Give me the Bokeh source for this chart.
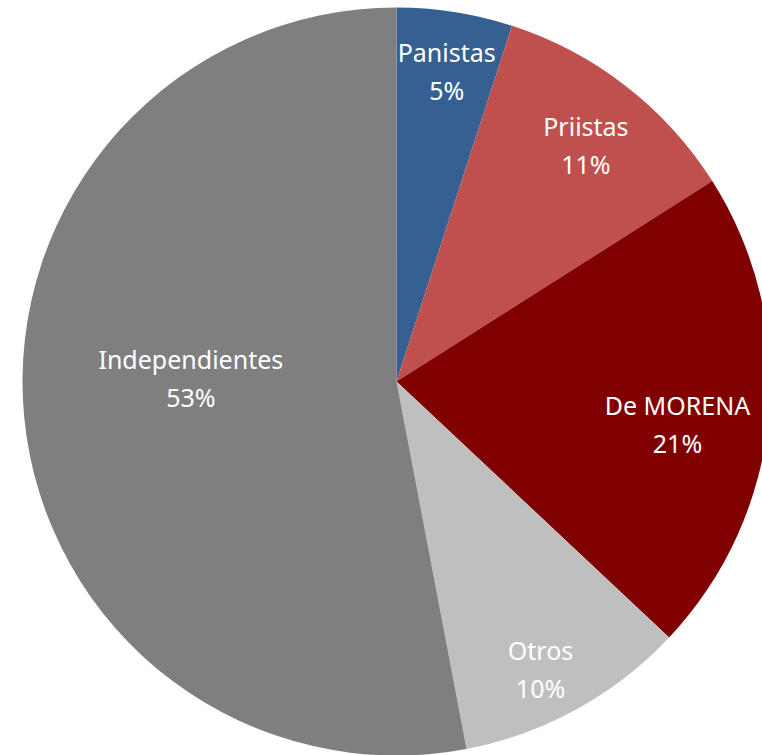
import math
from bokeh.plotting import figure
from bokeh.models import Range1d, ColumnDataSource
from bokeh.core.properties import value
from bokeh.embed import file_html
from bokeh.resources import INLINE

# data
categories = ["Panistas", "Priistas", "De MORENA", "Otros", "Independientes"]
shares = [5, 11, 21, 10, 53]
colors = ["#376092", "#C0504D", "#800000", "#BFBFBF", "#7F7F7F"]

# label placement styles (fraction of radius, angle nudge in degrees)
label_r = [0.84, 0.81, 0.76, 0.86, 0.55]
label_nudge = [0.2, 0.9, 3.3, 2.2, 6.4]

W, H = 762, 755
CX, CY, R = 396, 374, 374

p = figure(width=W, height=H, output_backend="svg", toolbar_location=None,
           x_range=Range1d(0, W), y_range=Range1d(0, H), min_border=0)
p.axis.visible = False
p.grid.visible = False
p.outline_line_color = None
p.background_fill_color = "white"

total = sum(shares)
starts, ends, mids = [], [], []
acc = 0
for s in shares:
    a0 = acc / total * 2 * math.pi
    acc += s
    a1 = acc / total * 2 * math.pi
    # clockwise from 12 o'clock -> bokeh angle = pi/2 - a
    starts.append(math.pi / 2 - a0)
    ends.append(math.pi / 2 - a1)
    mids.append((a0 + a1) / 2)

src = ColumnDataSource(dict(start=starts, end=ends, color=colors))
p.wedge(x=CX, y=CY, radius=R, start_angle="start", end_angle="end",
        direction="clock", fill_color="color", line_color=None, source=src)

lx, ly = [], []
for m, rf, nd in zip(mids, label_r, label_nudge):
    a = m + math.radians(nd)
    lx.append(CX + rf * R * math.sin(a))
    ly.append(CY + rf * R * math.cos(a))

names_src = ColumnDataSource(dict(x=lx, y=[y + 19 for y in ly], t=categories))
pct_src = ColumnDataSource(dict(x=lx, y=[y - 19 for y in ly], t=[f"{s}%" for s in shares]))
for s in (names_src, pct_src):
    p.text(x="x", y="y", text="t", source=s, text_align="center", text_baseline="middle",
           text_color="white", text_font=value("Noto Sans"), text_font_size="25px")

open("out.html", "w").write(file_html(p, INLINE))
